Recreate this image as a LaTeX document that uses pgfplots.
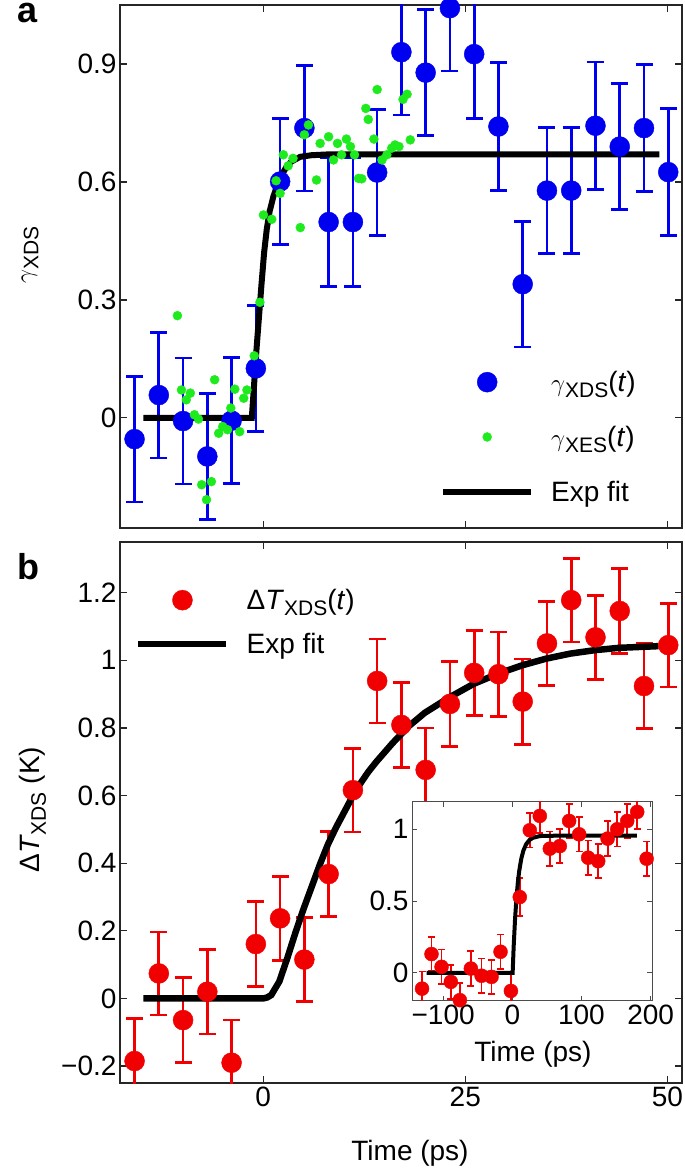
\documentclass[border=0pt]{standalone}
\usepackage{fontspec}
\setmainfont{Liberation Sans}
\usepackage{pgfplots}
\pgfplotsset{compat=1.18}

\definecolor{xblue}{RGB}{0,0,240}
\definecolor{xgreen}{RGB}{30,235,30}
\definecolor{xred}{RGB}{240,0,0}
\newcommand{\tkfont}{\fontsize{28}{33}\selectfont}
\newcommand{\sub}[1]{\raisebox{-6pt}{\fontsize{21}{24}\selectfont #1}}
\tikzset{letter/.style={anchor=base west, inner sep=0pt, text height=20pt, text depth=0pt,
  font=\fontsize{36}{40}\selectfont\bfseries}}

\pgfplotsset{
  panel/.style={
    scale only axis, anchor=south west,
    axis line style={black!85, line width=1.2pt},
    tick style={black!85, line width=1.2pt},
    tick align=inside, tick pos=both, major tick length=7pt,
    tick label style={font=\tkfont}, label style={font=\tkfont},
    xmin=-17.7, xmax=51.8, xtick={0,25,50},
    legend cell align=left,
    legend style={draw=none, fill=none, inner sep=0pt, font=\tkfont,
      nodes={inner sep=0pt}},
  },
  % legend image: 88pt line or a mark at its middle, then some space before the text
  lineleg/.style={legend image code/.code={\path (0pt,0pt) (105pt,0pt); \draw[##1] (0pt,0pt) -- (88pt,0pt);}},
  markleg/.style={legend image code/.code={\path (0pt,0pt) (105pt,0pt); \draw[##1] plot coordinates {(44pt,0pt)};}},
}

\begin{document}
\begin{tikzpicture}
\useasboundingbox (0,0) rectangle (685pt,1171pt);

% ---- panel a
\begin{axis}[panel, at={(120pt,643pt)}, width=562pt, height=523pt,
  ymin=-0.28, ymax=1.05, ytick={0,0.3,0.6,0.9}, yticklabels={0,0.3,0.6,0.9},
  xticklabels={},
  ylabel={$\gamma$\sub{XDS}},
  ylabel style={at={(axis description cs:-0.16,0.522)}, anchor=center},
  legend style={at={(0.5694,0.300)}, anchor=north west, row sep=33pt},
  extra description/.code={\node[letter] at (-0.183,0.966) {a};}]
\addplot[markleg, only marks, mark=*, mark size=10pt, xblue,
  error bars/.cd, y dir=both, y explicit,
  error bar style={line width=2.7pt, xblue},
  error mark options={rotate=90, mark size=8.5pt, line width=2.7pt, xblue}]
coordinates {
(-15.9,-0.054) +- (0,0.16) (-12.9,0.058) +- (0,0.16) (-9.9,-0.008) +- (0,0.16)
(-6.9,-0.098) +- (0,0.16) (-3.9,-0.007) +- (0,0.16) (-0.9,0.126) +- (0,0.16)
(2.1,0.601) +- (0,0.16) (5.1,0.737) +- (0,0.16) (8.1,0.498) +- (0,0.163)
(11.1,0.498) +- (0,0.163) (14.1,0.624) +- (0,0.16) (17.1,0.93) +- (0,0.16)
(20.1,0.878) +- (0,0.16) (23.1,1.042) +- (0,0.16) (26.1,0.925) +- (0,0.163)
(29.1,0.741) +- (0,0.162) (32.1,0.34) +- (0,0.16) (35.1,0.578) +- (0,0.16)
(38.1,0.578) +- (0,0.16) (41.1,0.743) +- (0,0.162) (44.1,0.69) +- (0,0.16)
(47.1,0.737) +- (0,0.162) (50.1,0.625) +- (0,0.162)
};
\addlegendentry{$\gamma$\sub{XDS}(\textit{t})}
\addplot[black, line width=6pt, forget plot] coordinates {
(-14.8,0) (-1.4,0) (-0.8,0.18) (-0.2,0.34) (0.12,0.42) (0.45,0.48) (0.8,0.525)
(1.27,0.563) (2,0.607) (2.9,0.639) (3.5,0.652) (4.6,0.664) (6,0.668) (8,0.67) (49,0.67)
};
\addplot[markleg, only marks, mark=*, mark size=4.5pt, xgreen] coordinates {
(-10.6,0.26) (-10.1,0.071) (-9.5,0.046) (-9.0,0.063) (-8.5,0.008) (-8.0,-0.003)
(-7.6,-0.17) (-7.0,-0.208) (-6.4,-0.162) (-6.0,0.097) (-5.5,-0.039) (-5.0,-0.022)
(-4.4,-0.03) (-4.0,0.025) (-3.5,0.073) (-2.9,-0.035) (-2.4,0.05) (-2.0,0.071)
(-1.1,0.158) (-0.4,0.294) (0.04,0.516) (1.07,0.505) (1.6,0.603) (2.1,0.571)
(2.5,0.669) (3.1,0.641) (3.7,0.66) (4.6,0.484) (5.1,0.72) (5.6,0.745) (6.6,0.605)
(7.05,0.698) (8.1,0.715) (8.7,0.656) (9.2,0.698) (9.7,0.669) (10.3,0.709)
(10.8,0.69) (11.3,0.669) (11.8,0.609) (12.2,0.608) (12.7,0.787) (13.0,0.759)
(13.7,0.709) (14.1,0.835) (14.7,0.656) (15.3,0.669) (15.9,0.686) (16.3,0.694)
(16.8,0.69) (17.3,0.81) (17.8,0.823) (18.2,0.707)
};
\addlegendentry{$\gamma$\sub{XES}(\textit{t})}
\addlegendimage{lineleg, black, line width=6pt}
\addlegendentry{Exp fit}
\end{axis}

% ---- panel b
\begin{axis}[panel, at={(120pt,88pt)}, width=562pt, height=541pt,
  ymin=-0.25, ymax=1.35, ytick={-0.2,0,0.2,0.4,0.6,0.8,1,1.2},
  yticklabels={−0.2,0,0.2,0.4,0.6,0.8,1,1.2},
  xticklabels={0,25,50},
  xlabel={Time (ps)},
  xlabel style={at={(axis description cs:0.516,-0.129)}, anchor=center},
  ylabel={Δ\textit{T}\sub{XDS} (K)},
  ylabel style={at={(axis description cs:-0.155,0.505)}, anchor=center},
  legend style={at={(0.0267,0.913)}, anchor=north west, row sep=22pt},
  extra description/.code={\node[letter] at (-0.183,0.930) {b};}]
\addplot[markleg, only marks, mark=*, mark size=10pt, xred,
  error bars/.cd, y dir=both, y explicit,
  error bar style={line width=2.7pt, xred},
  error mark options={rotate=90, mark size=8.5pt, line width=2.7pt, xred}]
coordinates {
(-15.9,-0.185) +- (0,0.125) (-12.9,0.074) +- (0,0.123) (-9.9,-0.064) +- (0,0.125)
(-6.9,0.02) +- (0,0.125) (-3.9,-0.19) +- (0,0.126) (-0.9,0.161) +- (0,0.125)
(2.1,0.237) +- (0,0.124) (5.1,0.115) +- (0,0.125) (8.1,0.368) +- (0,0.125)
(11.1,0.616) +- (0,0.124) (14.1,0.939) +- (0,0.124) (17.1,0.809) +- (0,0.126)
(20.1,0.676) +- (0,0.124) (23.1,0.871) +- (0,0.125) (26.1,0.963) +- (0,0.126)
(29.1,0.959) +- (0,0.125) (32.1,0.878) +- (0,0.126) (35.1,1.05) +- (0,0.125)
(38.1,1.178) +- (0,0.124) (41.1,1.068) +- (0,0.124) (44.1,1.146) +- (0,0.125)
(47.1,0.924) +- (0,0.126) (50.1,1.045) +- (0,0.124)
};
\addlegendentry{Δ\textit{T}\sub{XDS}(\textit{t})}
\addplot[lineleg, black, line width=6.5pt] coordinates {
(-14.8,0) (0,0) (0.5,0.003) (1,0.01) (2,0.05) (3,0.12) (4,0.195) (5,0.265)
(6,0.33) (7,0.395) (8,0.455) (9,0.505) (10,0.55) (11,0.595) (12,0.635) (13,0.67)
(14,0.70) (16,0.755) (18,0.805) (20,0.845) (23,0.89) (26,0.93) (29,0.96)
(32,0.985) (35,1.005) (38,1.02) (41,1.03) (44,1.037) (47,1.04) (48.9,1.042)
};
\addlegendentry{Exp fit}
\end{axis}

% ---- inset
\begin{axis}[scale only axis, anchor=south west, at={(412pt,170pt)},
  width=240pt, height=199pt,
  axis background/.style={fill=white},
  axis line style={black!70, line width=1pt},
  tick style={black!70, line width=1pt},
  tick align=inside, tick pos=both, major tick length=5pt,
  tick label style={font=\tkfont}, label style={font=\tkfont},
  xmin=-145, xmax=202, ymin=-0.196, ymax=1.19,
  xtick={-100,0,100,200}, xticklabels={−100,0,100,200},
  ytick={0,0.5,1}, yticklabels={0,0.5,1},
  xlabel={Time (ps)},
  xlabel style={at={(axis description cs:0.504,-0.27)}, anchor=center}]
\addplot[only marks, mark=*, mark size=7pt, xred,
  error bars/.cd, y dir=both, y explicit,
  error bar style={line width=1.8pt, xred},
  error mark options={rotate=90, mark size=3.5pt, line width=1.8pt, xred}]
coordinates {
(-130.5,-0.11) +- (0,0.12) (-116.8,0.131) +- (0,0.12) (-102.3,0.042) +- (0,0.12)
(-88.8,-0.063) +- (0,0.12) (-75.8,-0.19) +- (0,0.12) (-59.9,0.03) +- (0,0.12)
(-44.4,-0.02) +- (0,0.12) (-30,-0.028) +- (0,0.12) (-17,0.147) +- (0,0.12)
(-2,-0.126) +- (0,0.12) (10.8,0.528) +- (0,0.13) (25.3,0.993) +- (0,0.12)
(39.8,1.093) +- (0,0.12) (54.3,0.865) +- (0,0.12) (68.7,0.883) +- (0,0.12)
(82.2,1.058) +- (0,0.12) (96.7,0.965) +- (0,0.12) (109.7,0.802) +- (0,0.12)
(124.2,0.778) +- (0,0.12) (137.8,0.935) +- (0,0.12) (151.7,1.0) +- (0,0.12)
(166.2,1.058) +- (0,0.12) (180.6,1.121) +- (0,0.12) (194.2,0.795) +- (0,0.12)
};
\addplot[black, line width=4pt] coordinates {
(-124,0) (0.5,0) (2,0.184) (4,0.375) (6,0.52) (8,0.628) (10,0.709) (13,0.795)
(16,0.851) (20,0.896) (25,0.926) (30,0.941) (40,0.953) (60,0.955) (180,0.955)
};
\end{axis}
\end{tikzpicture}
\end{document}
